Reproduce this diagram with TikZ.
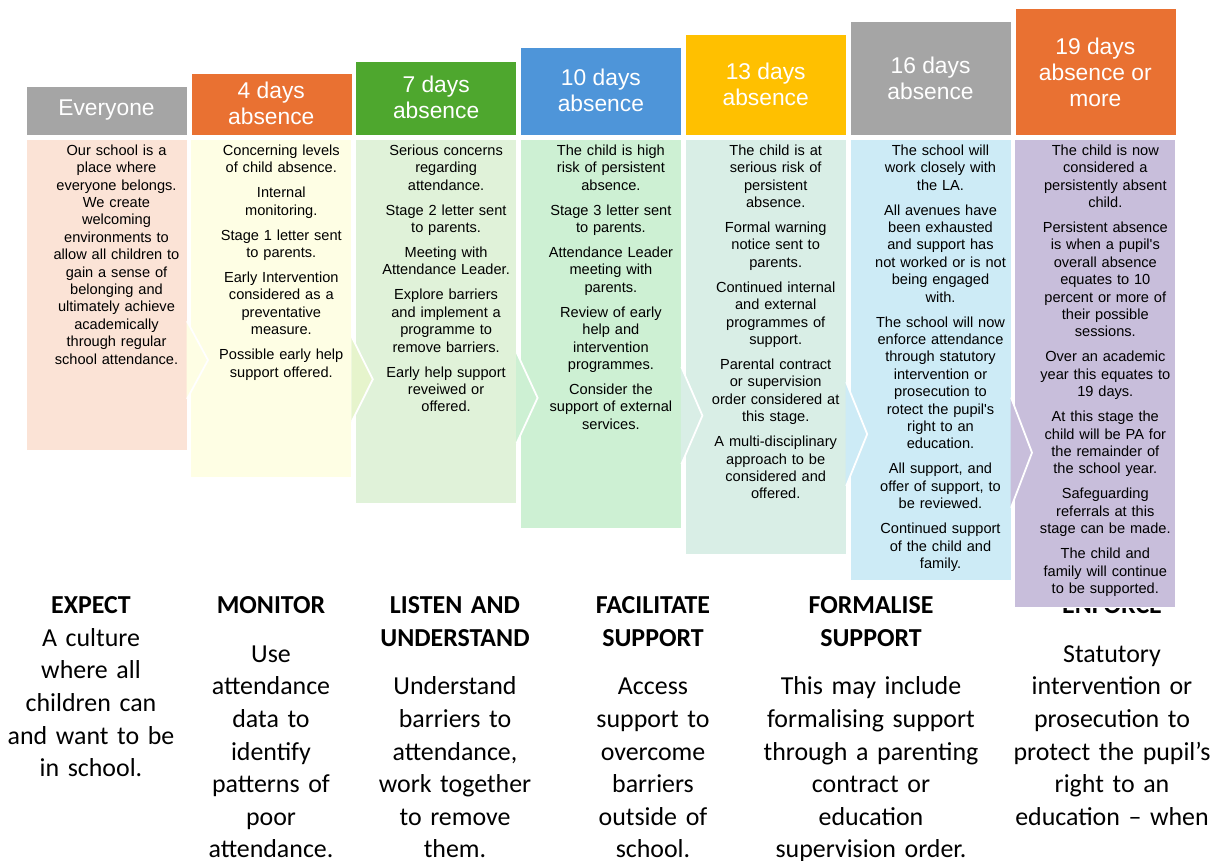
\documentclass[tikz,border=0pt]{standalone}
\usepackage{fontspec}
\newfontfamily\bodyf{Liberation Sans}
\newfontfamily\calf{Carlito}
\definecolor{hgray}{HTML}{A5A5A5}
\definecolor{horange}{HTML}{E97132}
\definecolor{hgreen}{HTML}{4EA72E}
\definecolor{hblue}{HTML}{4E95D9}
\definecolor{hyellow}{HTML}{FFC000}
\definecolor{bpink}{HTML}{FBE3D6}
\definecolor{byellow}{HTML}{FEFEE4}
\definecolor{blgreen}{HTML}{E0F2D9}
\definecolor{bgreen}{HTML}{CDF0D3}
\definecolor{bteal}{HTML}{D9EEE6}
\definecolor{bblue}{HTML}{CDEBF6}
\definecolor{bpurple}{HTML}{C8BEDB}
\definecolor{bmix}{HTML}{E6F4CC}
\begin{document}
\begin{tikzpicture}[x=1pt,y=-1pt,
  headbox/.style={draw=white,line width=0.6pt},
  bodybox/.style={draw=white,line width=1pt},
  chev/.style={draw=white,line width=1.8pt,line join=miter},
  headtxt/.style={text=white,align=center,inner sep=0pt,font=\bodyf\fontsize{22.8}{26}\selectfont},
  bodytxt/.style={anchor=north,align=center,text width=164pt,inner sep=0pt,font=\bodyf\fontsize{14.6}{17.4}\selectfont},
  bottxt/.style={anchor=north,align=center,text width=220pt,inner sep=0pt,font=\calf\fontsize{25.9}{32.6}\selectfont}]
\useasboundingbox (0,0) rectangle (1221,860);
\fill[white] (0,0) rectangle (1221,860);

% bottom texts (drawn first: the purple box covers ENFORCE)
\node[bottxt] (t1) at (91,590.7) {\strut{\bfseries EXPECT}\\A culture\\where all\\children can\\and want to be\\in school.};
\node[bottxt] (t2) at (271,590.7) {\strut{\bfseries MONITOR}\\[16pt]Use\\attendance\\data to\\identify\\patterns of\\poor\\attendance.};
\node[bottxt] (t3) at (455,590.7) {\strut{\bfseries LISTEN AND}\\{\bfseries UNDERSTAND}\\[16pt]Understand\\barriers to\\attendance,\\work together\\to remove\\them.};
\node[bottxt] (t4) at (653,590.7) {\strut{\bfseries FACILITATE}\\{\bfseries SUPPORT}\\[16pt]Access\\support to\\overcome\\barriers\\outside of\\school.};
\node[bottxt] (t5) at (871,590.7) {\strut{\bfseries FORMALISE}\\{\bfseries SUPPORT}\\[16pt]This may include\\formalising support\\through a parenting\\contract or\\education\\supervision order.};
\node[bottxt] (t6) at (1112,590.7) {\strut{\bfseries ENFORCE}\\[16pt]Statutory\\intervention or\\prosecution to\\protect the pupil’s\\right to an\\education – when};

% header boxes
\fill[hgray,headbox]   (26,86)    rectangle (187,135.5);
\fill[horange,headbox] (190.8,73) rectangle (351.8,135.5);
\fill[hgreen,headbox]  (355.6,61) rectangle (516.6,135.5);
\fill[hblue,headbox]   (520.4,47) rectangle (681.4,135.5);
\fill[hyellow,headbox] (685.2,34) rectangle (846.2,135.5);
\fill[hgray,headbox]   (850,21)   rectangle (1011,135.5);
\fill[horange,headbox] (1014.8,8) rectangle (1175.8,135.5);

\node[headtxt] (h1) at (106.5,110) {Everyone};
\node[headtxt] (h2) at (271.3,103.5) {4 days\\absence};
\node[headtxt] (h3) at (436.1,97.5) {7 days\\absence};
\node[headtxt] (h4) at (600.9,90.5) {10 days\\absence};
\node[headtxt] (h5) at (765.7,84.5) {13 days\\absence};
\node[headtxt] (h6) at (930.5,78) {16 days\\absence};
\node[headtxt] (h7) at (1095.3,72) {19 days\\absence or\\more};

% body boxes
\fill[bpink,bodybox]   (26,139)    rectangle (187,450);
\fill[byellow,bodybox] (190.8,139) rectangle (351.8,477);
\fill[blgreen,bodybox] (355.6,139) rectangle (516.6,503);
\fill[bgreen,bodybox]  (520.4,139) rectangle (681.4,528);
\fill[bteal,bodybox]   (685.2,139) rectangle (846.2,554);
\fill[bblue,bodybox]   (850,139)   rectangle (1011,580);
\fill[bpurple,bodybox] (1014.8,139) rectangle (1175.8,607);

% chevron points
\fill[byellow] (186.5,321.2) -- (208,360.1) -- (186.5,399) -- cycle;
\draw[chev] (187,321.2) -- (208,360.1) -- (187,399);
\fill[bmix] (351.3,337) -- (372.8,379.3) -- (351.3,421.6) -- cycle;
\draw[chev] (351.8,337) -- (372.8,379.3) -- (351.8,421.6);
\fill[bgreen] (516.1,352.3) -- (537.6,397.8) -- (516.1,443.3) -- cycle;
\draw[chev] (516.6,352.3) -- (537.6,397.8) -- (516.6,443.3);
\fill[bteal] (680.9,367) -- (702.4,415.6) -- (680.9,464.2) -- cycle;
\draw[chev] (681.4,367) -- (702.4,415.6) -- (681.4,464.2);
\fill[bblue] (845.7,382.2) -- (867.2,434.1) -- (845.7,486) -- cycle;
\draw[chev] (846.2,382.2) -- (867.2,434.1) -- (846.2,486);
\fill[bpurple] (1010.5,397.5) -- (1032,452.6) -- (1010.5,507.7) -- cycle;
\draw[chev] (1011,397.5) -- (1032,452.6) -- (1011,507.7);

% body texts
\node[bodytxt] (b1) at (116.5,143) {\strut Our school is a\\place where\\everyone belongs.\\We create\\welcoming\\environments to\\allow all children to\\gain a sense of\\belonging and\\ultimately achieve\\academically\\through regular\\school attendance.};
\node[bodytxt] (b2) at (281.3,143) {\strut Concerning levels\\of child absence.\\[7.6pt]Internal\\monitoring.\\[7.6pt]Stage 1 letter sent\\to parents.\\[7.6pt]Early Intervention\\considered as a\\preventative\\measure.\\[7.6pt]Possible early help\\support offered.};
\node[bodytxt] (b3) at (446.1,143) {\strut Serious concerns\\regarding\\attendance.\\[7.6pt]Stage 2 letter sent\\to parents.\\[7.6pt]Meeting with\\Attendance Leader.\\[7.6pt]Explore barriers\\and implement a\\programme to\\remove barriers.\\[7.6pt]Early help support\\reveiwed or\\offered.};
\node[bodytxt] (b4) at (610.9,143) {\strut The child is high\\risk of persistent\\absence.\\[7.6pt]Stage 3 letter sent\\to parents.\\[7.6pt]Attendance Leader\\meeting with\\parents.\\[7.6pt]Review of early\\help and\\intervention\\programmes.\\[7.6pt]Consider the\\support of external\\services.};
\node[bodytxt] (b5) at (775.7,143) {\strut The child is at\\serious risk of\\persistent\\absence.\\[7.6pt]Formal warning\\notice sent to\\parents.\\[7.6pt]Continued internal\\and external\\programmes of\\support.\\[7.6pt]Parental contract\\or supervision\\order considered at\\this stage.\\[7.6pt]A multi-disciplinary\\approach to be\\considered and\\offered.};
\node[bodytxt] (b6) at (940.5,143) {\strut The school will\\work closely with\\the LA.\\[7.6pt]All avenues have\\been exhausted\\and support has\\not worked or is not\\being engaged\\with.\\[7.6pt]The school will now\\enforce attendance\\through statutory\\intervention or\\prosecution to\\rotect the pupil's\\right to an\\education.\\[7.6pt]All support, and\\offer of support, to\\be reviewed.\\[7.6pt]Continued support\\of the child and\\family.};
\node[bodytxt] (b7) at (1105.3,143) {\strut The child is now\\considered a\\persistently absent\\child.\\[7.6pt]Persistent absence\\is when a pupil's\\overall absence\\equates to 10\\percent or more of\\their possible\\sessions.\\[7.6pt]Over an academic\\year this equates to\\19 days.\\[7.6pt]At this stage the\\child will be PA for\\the remainder of\\the school year.\\[7.6pt]Safeguarding\\referrals at this\\stage can be made.\\[7.6pt]The child and\\family will continue\\to be supported.};
\end{tikzpicture}
\end{document}
